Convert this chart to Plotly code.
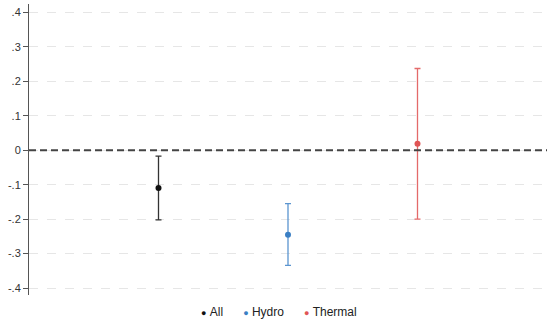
import plotly.graph_objects as go

groups = ["All", "Hydro", "Thermal"]
xpos = [1, 2, 3]
estimates = [-0.110, -0.245, 0.019]
ci_low = [-0.202, -0.334, -0.200]
ci_high = [-0.017, -0.155, 0.237]
colors = ["#111111", "#3a7fc4", "#e05555"]
bar_colors = ["#333333", "#5b95d0", "#e46a6a"]
tick_vals = [-0.4, -0.3, -0.2, -0.1, 0, 0.1, 0.2, 0.3, 0.4]
tick_text = ["-.4", "-.3", "-.2", "-.1", "0", ".1", ".2", ".3", ".4"]

fig = go.Figure()
for g, x, e, lo, hi, c, bc in zip(groups, xpos, estimates, ci_low, ci_high, colors, bar_colors):
    fig.add_trace(go.Scatter(
        x=[x], y=[e], mode="markers", name=g, showlegend=False,
        marker=dict(color=c, size=6),
        error_y=dict(type="data", symmetric=False, array=[hi - e], arrayminus=[e - lo],
                     color=bc, thickness=1.3, width=3),
    ))

# dashed reference line at zero
fig.add_shape(type="line", xref="paper", yref="y", x0=0, x1=1, y0=0, y1=0,
              line=dict(color="#444444", width=2, dash="7px,4px"), layer="above")

# legend row built from the group names and colours
sep = "&nbsp;" * 6
legend_text = sep.join(
    f"<span style='color:{c};font-size:9px'>●</span>&nbsp;{g}" for g, c in zip(groups, colors)
)
fig.add_annotation(text=legend_text, xref="paper", yref="paper", x=0.483, y=-0.058,
                   xanchor="center", yanchor="middle", showarrow=False,
                   font=dict(size=12, color="#222222", family="Liberation Sans, Arial"))

fig.update_layout(
    width=547, height=324,
    margin=dict(l=29, r=0, t=4, b=29, autoexpand=False),
    paper_bgcolor="white", plot_bgcolor="white",
    font=dict(family="Liberation Sans, Arial", size=11, color="#333333"),
    showlegend=False,
    xaxis=dict(range=[0, 4], showticklabels=False, showgrid=False, zeroline=False,
               showline=False, ticks=""),
    yaxis=dict(range=[-0.42, 0.424], tickvals=tick_vals, ticktext=tick_text,
               showgrid=True, gridcolor="#e6e6e6", griddash="dash", gridwidth=1,
               zeroline=False, showline=True, linecolor="#555555", linewidth=1,
               ticks="outside", ticklen=5, tickcolor="#555555",
               tickfont=dict(size=11, color="#333333")),
)

fig.write_html("out.html")
